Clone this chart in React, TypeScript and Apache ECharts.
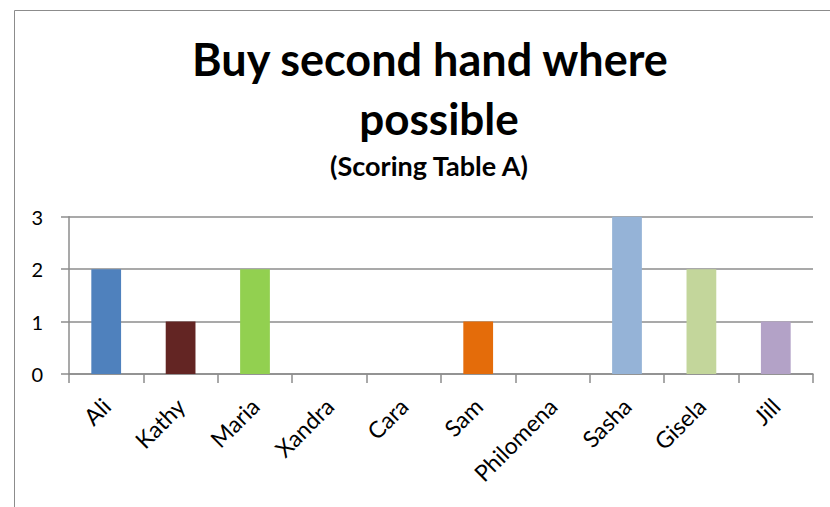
import React, { useEffect, useRef } from "react";
import * as echarts from "echarts";

const categories = ["Ali", "Kathy", "Maria", "Xandra", "Cara", "Sam", "Philomena", "Sasha", "Gisela", "Jill"];
const scores = [2, 1, 2, 0, 0, 1, 0, 3, 2, 1];
const barColors = ["#4F81BD", "#632523", "#92D050", "#8064A2", "#4BACC6", "#E46C0A", "#1F497D", "#95B3D7", "#C3D69B", "#B3A2C7"];
const titleLines = ["Buy second hand where", "possible"];
const subtitle = "(Scoring Table A)";

const FONT = "Lato, 'Open Sans', sans-serif";

export default function App() {
  const ref = useRef<HTMLDivElement>(null);
  useEffect(() => {
    if (!ref.current) return;
    const chart = echarts.init(ref.current, undefined, { renderer: "svg" });
    chart.setOption({
      animation: false,
      backgroundColor: "#ffffff",
      textStyle: { fontFamily: FONT },
      graphic: [
        {
          type: "rect",
          shape: { x: 14.5, y: 10.5, width: 900, height: 600 },
          style: { fill: "none", stroke: "#8c8c8c", lineWidth: 1 },
          silent: true,
        },
        {
          type: "text",
          x: 430,
          y: 81,
          style: { text: titleLines[0], font: `bold 45px ${FONT}`, fill: "#000", textAlign: "center", textVerticalAlign: "bottom" },
        },
        {
          type: "text",
          x: 439,
          y: 140,
          style: { text: titleLines[1], font: `bold 44px ${FONT}`, fill: "#000", textAlign: "center", textVerticalAlign: "bottom" },
        },
        {
          type: "text",
          x: 429,
          y: 179,
          style: { text: subtitle, font: `bold 27px ${FONT}`, fill: "#000", textAlign: "center", textVerticalAlign: "bottom" },
        },
      ],
      grid: { left: 69, right: 17, top: 216.7, bottom: 133, containLabel: false },
      xAxis: {
        type: "category",
        data: categories,
        boundaryGap: true,
        axisLine: { show: true, lineStyle: { color: "#8c8c8c", width: 1.5 } },
        axisTick: { show: true, length: 9, lineStyle: { color: "#8c8c8c", width: 1.5 } },
        axisLabel: { rotate: 45, fontSize: 23, color: "#000", margin: 28, fontFamily: FONT },
        splitLine: { show: false },
      },
      yAxis: {
        type: "value",
        min: 0,
        max: 3,
        interval: 1,
        axisLine: { show: true, lineStyle: { color: "#8c8c8c", width: 1.5 } },
        axisTick: { show: true, length: 8, lineStyle: { color: "#8c8c8c", width: 1.5 } },
        axisLabel: { fontSize: 20, color: "#000", margin: 26, fontFamily: FONT },
        splitLine: { show: true, lineStyle: { color: "#8c8c8c", width: 1.5 } },
      },
      series: [
        {
          type: "bar",
          barWidth: "40%",
          data: scores.map((v, i) => ({ value: v, itemStyle: { color: barColors[i] } })),
        },
      ],
    });
    return () => chart.dispose();
  }, []);
  return <div ref={ref} style={{ position: "fixed", left: 0, top: 0, width: 830, height: 507 }} />;
}
